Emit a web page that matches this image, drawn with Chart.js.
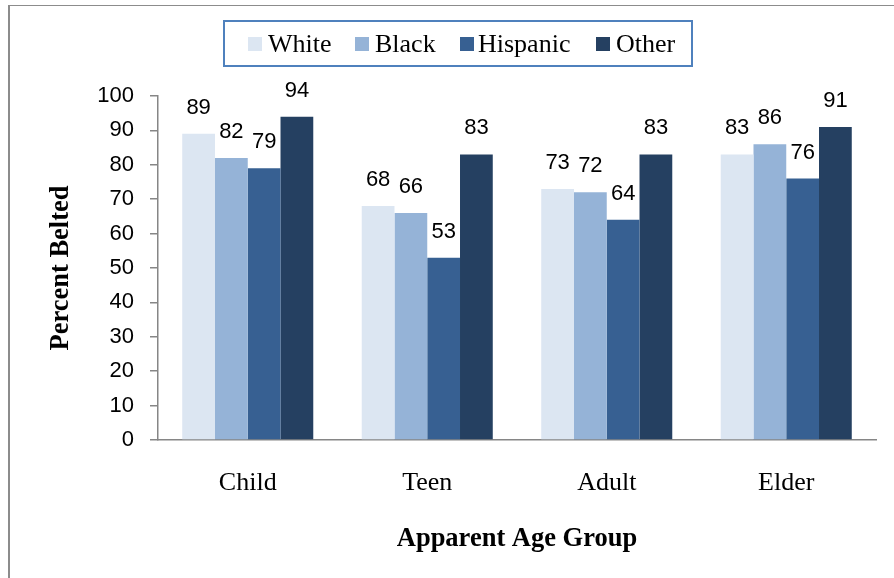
<!DOCTYPE html>
<html>
<head>
<meta charset="utf-8">
<script src="https://cdn.jsdelivr.net/npm/chart.js@4.4.1/dist/chart.umd.min.js"></script>
<style>
  html, body { margin: 0; padding: 0; background: #fff; }
  canvas { display: block; }
</style>
</head>
<body>
<canvas id="c" width="894" height="578"></canvas>
<script>
const categories = ['Child', 'Teen', 'Adult', 'Elder'];
const seriesNames = ['White', 'Black', 'Hispanic', 'Other'];
const whiteValues = [89, 68, 73, 83];
const blackValues = [82, 66, 72, 86];
const hispanicValues = [79, 53, 64, 76];
const otherValues = [94, 83, 83, 91];
const seriesColors = ['#DCE6F2', '#95B3D7', '#376092', '#254061'];
const yTickMin = 0, yTickMax = 100, yTickStep = 10;

const SANS = '"Liberation Sans", Arial, sans-serif';
const SERIF = '"Liberation Serif", "Times New Roman", serif';

const frameAndLegend = {
  id: 'frameAndLegend',
  afterDraw(chart) {
    const ctx = chart.ctx;
    ctx.save();
    // outer frame (top and left edges)
    ctx.strokeStyle = '#8c8c8c';
    ctx.lineWidth = 1;
    ctx.beginPath();
    ctx.moveTo(8, 5.5); ctx.lineTo(894, 5.5);
    ctx.stroke();
    ctx.lineWidth = 2;
    ctx.beginPath();
    ctx.moveTo(9, 5); ctx.lineTo(9, 578);
    ctx.stroke();
    // legend box
    ctx.strokeStyle = '#4F81BD';
    ctx.lineWidth = 2;
    ctx.strokeRect(224, 21, 468, 45);
    const items = [[248, 268], [355, 375], [460, 478], [596, 616]];
    ctx.font = '26px ' + SERIF;
    ctx.textBaseline = 'alphabetic';
    ctx.textAlign = 'left';
    items.forEach((it, i) => {
      ctx.fillStyle = seriesColors[i];
      ctx.fillRect(it[0], 37, 14, 14);
      ctx.fillStyle = '#000';
      ctx.fillText(seriesNames[i], it[1], 52);
    });
    // data labels
    ctx.font = '22px ' + SANS;
    ctx.textAlign = 'center';
    ctx.fillStyle = '#000';
    chart.data.datasets.forEach((ds, di) => {
      const meta = chart.getDatasetMeta(di);
      meta.data.forEach((bar, i) => {
        ctx.fillText(String(ds.data[i]), bar.x, bar.y - 20);
      });
    });
    ctx.restore();
  }
};

const allValues = [whiteValues, blackValues, hispanicValues, otherValues];

new Chart(document.getElementById('c'), {
  type: 'bar',
  data: {
    labels: categories,
    datasets: seriesNames.map((name, i) => ({
      label: name,
      data: allValues[i],
      backgroundColor: seriesColors[i],
      borderWidth: 0,
      categoryPercentage: 0.73,
      barPercentage: 1.0
    }))
  },
  options: {
    responsive: false,
    animation: false,
    layout: { padding: { top: 96, right: 18, bottom: 0, left: 0 } },
    plugins: {
      legend: { display: false },
      tooltip: { enabled: false }
    },
    scales: {
      x: {
        grid: { display: false, drawTicks: false },
        border: { display: true, color: '#868686', width: 1.5 },
        ticks: { font: { family: SERIF, size: 26 }, color: '#000', padding: 28 },
        title: {
          display: true,
          text: 'Apparent Age Group',
          font: { family: SERIF, size: 26.5, weight: 'bold' },
          color: '#000',
          padding: { top: 0, bottom: 23 }
        },
        afterFit(scale) { scale.height = 138; }
      },
      y: {
        min: yTickMin,
        max: yTickMax,
        ticks: { stepSize: yTickStep, font: { family: SANS, size: 22 }, color: '#000', padding: 16 },
        grid: { drawOnChartArea: false, drawTicks: true, tickLength: 8, color: '#868686', lineWidth: 1.5 },
        border: { display: true, color: '#868686', width: 1.5 },
        title: {
          display: true,
          text: 'Percent Belted',
          font: { family: SERIF, size: 26.5, weight: 'bold' },
          color: '#000',
          padding: { top: 45, bottom: 0 }
        },
        afterFit(scale) { scale.width = 158; }
      }
    }
  },
  plugins: [frameAndLegend]
});
</script>
</body>
</html>
